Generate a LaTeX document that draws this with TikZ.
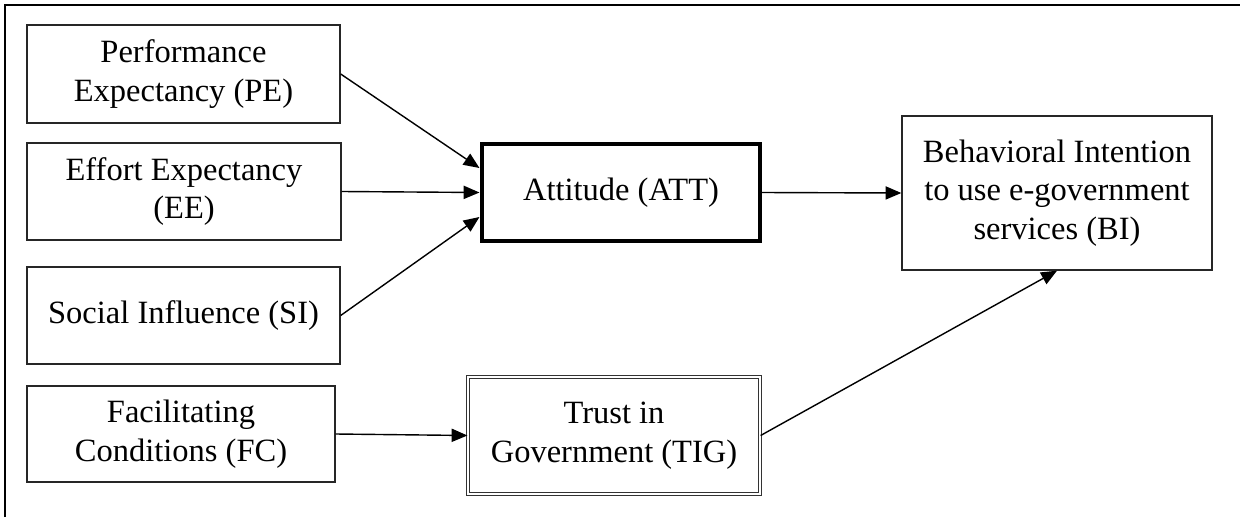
\documentclass[tikz,border=0pt]{standalone}
\usepackage{fontspec}
\setmainfont{Liberation Serif}
\usetikzlibrary{arrows.meta,calc}
\begin{document}
\begin{tikzpicture}[x=0.02cm,y=-0.02cm,
  box/.style={draw=black!85,line width=0.8pt,inner sep=0pt,align=center,
    font=\fontsize{18.5}{22}\selectfont},
  thickbox/.style={box,draw=black,line width=1.8pt},
  dblbox/.style={box,double=white,double distance=1.2pt,line width=0.7pt,draw=black!80},
  arr/.style={line width=0.8pt,-{Triangle[length=9pt,width=7.5pt]}}]
\useasboundingbox (0,0) rectangle (1240,517);
\draw[line width=1.5pt] (5,517) -- (5,5) -- (1240,5);
\node[box,minimum width=6.26cm,minimum height=1.96cm] (PE) at (183.5,74) {Performance\\Expectancy (PE)};
\node[box,minimum width=6.28cm,minimum height=1.94cm] (EE) at (184,191.5) {Effort Expectancy\\(EE)};
\node[box,minimum width=6.26cm,minimum height=1.94cm] (SI) at (183.5,315.5) {Social Influence (SI)};
\node[box,minimum width=6.16cm,minimum height=1.92cm] (FC) at (181,434) {Facilitating\\Conditions (FC)};
\node[thickbox,minimum width=5.56cm,minimum height=1.94cm] (ATT) at (621,192.5) {Attitude (ATT)};
\node[dblbox,minimum width=5.84cm,minimum height=2.34cm] (TIG) at (614,435.5) {Trust in\\Government (TIG)};
\node[box,minimum width=6.2cm,minimum height=3.08cm] (BI) at (1057,193) {Behavioral Intention\\to use e-government\\services (BI)};
\coordinate (A1) at ($(ATT.west)+(-1,-24.5)$);
\coordinate (A2) at ($(ATT.west)+(-1,0)$);
\coordinate (A3) at ($(ATT.west)+(-1,24.5)$);
\draw[arr] (PE.east) -- (A1);
\draw[arr] (EE.east) -- (A2);
\draw[arr] (SI.east) -- (A3);
\draw[arr] (ATT.east) -- (BI.west);
\draw[arr] (FC.east) -- (TIG.west);
\draw[arr] (TIG.east) -- (BI.south);
\end{tikzpicture}
\end{document}
